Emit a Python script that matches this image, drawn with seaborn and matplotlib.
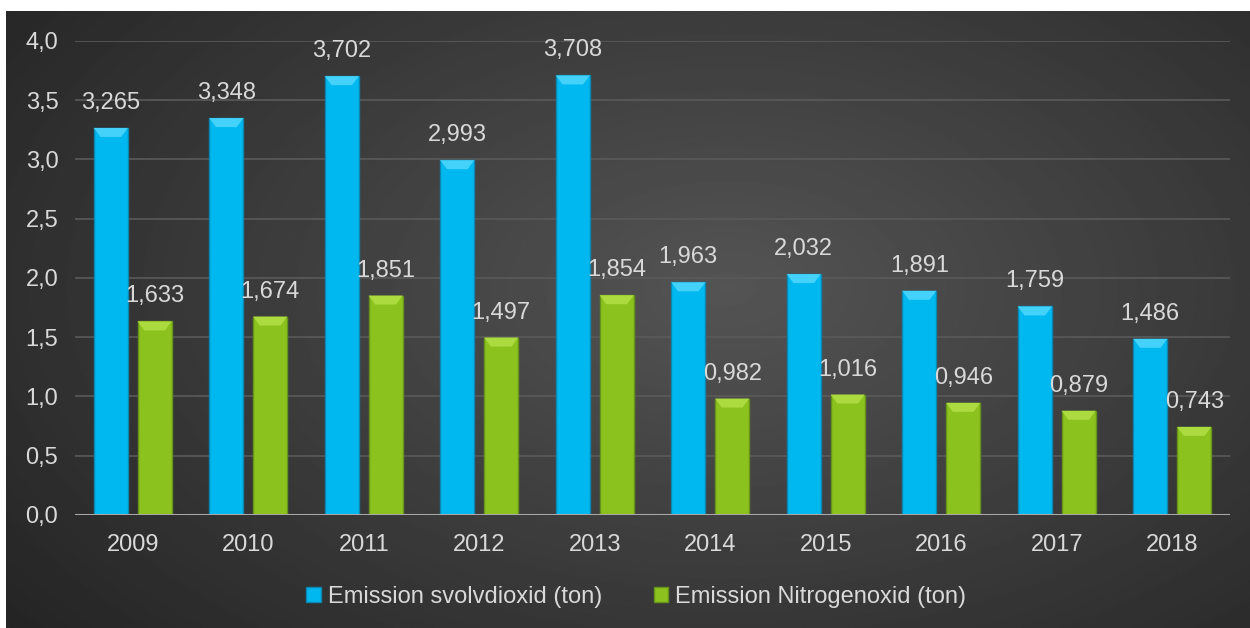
import numpy as np
import pandas as pd
import matplotlib
matplotlib.use("Agg")
import matplotlib.pyplot as plt
from matplotlib.patches import Polygon
import seaborn as sns

# données
years = ["2009", "2010", "2011", "2012", "2013", "2014", "2015", "2016", "2017", "2018"]
so2 = [3.265, 3.348, 3.702, 2.993, 3.708, 1.963, 2.032, 1.891, 1.759, 1.486]
nox = [1.633, 1.674, 1.851, 1.497, 1.854, 0.982, 1.016, 0.946, 0.879, 0.743]
series_names = ["Emission svolvdioxid (ton)", "Emission Nitrogenoxid (ton)"]
y_ticks = [0.0, 0.5, 1.0, 1.5, 2.0, 2.5, 3.0, 3.5, 4.0]

df = pd.DataFrame({
    "year": years * 2,
    "value": so2 + nox,
    "serie": [series_names[0]] * len(years) + [series_names[1]] * len(years),
})

sns.set_style("dark")
plt.rcParams["font.family"] = ["Liberation Sans", "DejaVu Sans"]

TXT = "#D9D9D9"
FS = 17
colors = {series_names[0]: "#00B8F0", series_names[1]: "#8CC21E"}
caps = {series_names[0]: "#45D2FA", series_names[1]: "#ACDB40"}
edges = {series_names[0]: "#0A86B0", series_names[1]: "#66941A"}

fig = plt.figure(figsize=(12.5, 6.28), dpi=100, facecolor="white")

# fond dégradé radial
bg = fig.add_axes([6 / 1250, 0, 1 - 6 / 1250, 1 - 11 / 628])
yy, xx = np.mgrid[0:1:300j, 0:1:600j]
r = np.sqrt(((xx - 0.58) / 0.75) ** 2 + ((yy - 0.45) / 0.9) ** 2)
shade = np.clip(0.33 - 0.19 * r, 0.14, 0.34)
bg.imshow(shade, cmap="gray", vmin=0, vmax=1, aspect="auto", extent=[0, 1, 0, 1])
bg.set_axis_off()

ax = fig.add_axes([0.06, 0.18, 0.924, 0.755])
ax.patch.set_alpha(0)

sns.barplot(data=df, x="year", y="value", hue="serie", hue_order=series_names,
            palette=colors, width=0.76, gap=0.22, ax=ax, legend=True,
            saturation=1)

# effet biseau + étiquettes
px = 4.0 / (0.755 * 628)
for container, name in zip(ax.containers, series_names):
    for bar in container:
        x0, w, h = bar.get_x(), bar.get_width(), bar.get_height()
        bar.set_edgecolor(edges[name])
        bar.set_linewidth(1.0)
        cap = Polygon([[x0, h], [x0 + w, h], [x0 + w * 0.8, h - 9 * px], [x0 + w * 0.2, h - 9 * px]],
                      closed=True, facecolor=caps[name], edgecolor="none", zorder=bar.get_zorder() + 0.1)
        ax.add_patch(cap)
        ax.text(x0 + w / 2, h + 14 * px, "{:.3f}".format(h).replace(".", ","),
                ha="center", va="bottom", color=TXT, fontsize=FS)

ax.set_ylim(0, 4.0)
ax.set_xlim(-0.5, len(years) - 0.5)
ax.set_yticks(y_ticks)
ax.set_yticklabels(["{:.1f}".format(v).replace(".", ",") for v in y_ticks])
ax.tick_params(axis="both", colors=TXT, labelsize=FS, length=0)
ax.tick_params(axis="y", pad=12)
ax.tick_params(axis="x", pad=14)
ax.set_xlabel("")
ax.set_ylabel("")
ax.grid(axis="y", color="#5A5A5A", linewidth=1.2)
ax.grid(axis="x", visible=False)
ax.set_axisbelow(True)
for s in ax.spines.values():
    s.set_visible(False)
ax.axhline(0, color="#A8A8A8", linewidth=2.2, zorder=5)

leg = ax.legend(loc="center", bbox_to_anchor=(0.486, -0.172), ncol=2, frameon=False,
                fontsize=FS, handlelength=0.6, handleheight=0.6, handletextpad=0.3,
                columnspacing=2.2)
for t in leg.get_texts():
    t.set_color(TXT)
for hnd, name in zip(leg.legend_handles, series_names):
    hnd.set_edgecolor(edges[name])
    hnd.set_linewidth(1.0)

fig.savefig("out.png", dpi=100, facecolor=fig.get_facecolor())
